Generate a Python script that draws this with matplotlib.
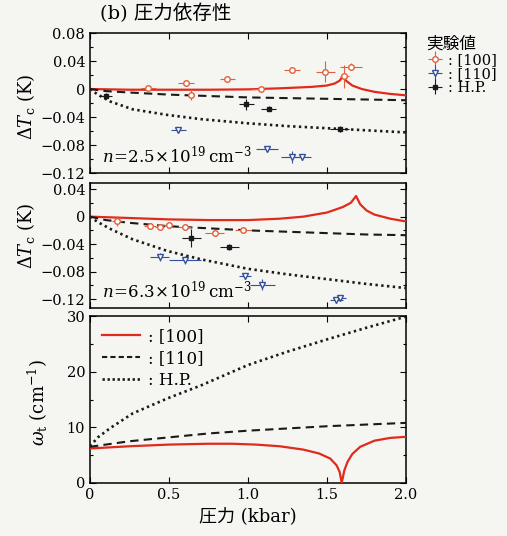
import numpy as np
import matplotlib
matplotlib.use("Agg")
import matplotlib.pyplot as plt
from matplotlib.ticker import MultipleLocator
from matplotlib.lines import Line2D

plt.rcParams['font.family'] = ['DejaVu Serif', 'Noto Sans CJK JP']
plt.rcParams['mathtext.fontset'] = 'dejavuserif'

# ---- panel 1 : n = 2.5e19 ----
p1_100_x = [0.37, 0.61, 0.64, 0.87, 1.08, 1.28, 1.49, 1.61, 1.65]
p1_100_y = [0.002, 0.009, -0.008, 0.015, 0.0, 0.027, 0.025, 0.018, 0.032]
p1_100_xe = [0.05, 0.05, 0.02, 0.05, 0.06, 0.05, 0.06, 0.03, 0.07]
p1_100_ye = [0.004, 0.004, 0.008, 0.004, 0.004, 0.004, 0.015, 0.017, 0.005]

p1_110_x = [0.56, 1.12, 1.28, 1.34]
p1_110_y = [-0.058, -0.086, -0.097, -0.097]
p1_110_xe = [0.05, 0.07, 0.07, 0.06]
p1_110_ye = [0.004, 0.004, 0.008, 0.004]

p1_hp_x = [0.10, 0.99, 1.13, 1.58]
p1_hp_y = [-0.010, -0.022, -0.028, -0.057]
p1_hp_xe = [0.04, 0.05, 0.05, 0.06]
p1_hp_ye = [0.004, 0.008, 0.004, 0.004]

c1_100_x = [0, 0.25, 0.5, 0.75, 1.0, 1.2, 1.4, 1.5, 1.55, 1.58, 1.6, 1.62, 1.66, 1.72, 1.8, 1.9, 2.0]
c1_100_y = [0, -0.001, -0.001, -0.001, -0.0005, 0.001, 0.003, 0.005, 0.008, 0.012, 0.018, 0.012, 0.005, 0.0, -0.004, -0.007, -0.009]
c1_110_x = [0, 0.1, 0.25, 0.5, 0.75, 1.0, 1.25, 1.5, 1.75, 2.0]
c1_110_y = [0, -0.003, -0.005, -0.008, -0.010, -0.012, -0.013, -0.014, -0.015, -0.016]
c1_hp_x = [0, 0.05, 0.13, 0.27, 0.49, 0.7, 1.0, 1.25, 1.5, 1.75, 2.0]
c1_hp_y = [0, -0.008, -0.018, -0.029, -0.037, -0.043, -0.049, -0.053, -0.056, -0.059, -0.062]

# ---- panel 2 : n = 6.3e19 ----
p2_100_x = [0.17, 0.38, 0.44, 0.50, 0.60, 0.79, 0.97]
p2_100_y = [-0.006, -0.014, -0.015, -0.012, -0.015, -0.024, -0.020]
p2_100_xe = [0.03, 0.04, 0.03, 0.04, 0.04, 0.06, 0.05]
p2_100_ye = [0.007, 0.004, 0.004, 0.004, 0.004, 0.004, 0.004]

p2_110_x = [0.44, 0.60, 0.98, 1.09, 1.56, 1.58]
p2_110_y = [-0.059, -0.063, -0.087, -0.099, -0.122, -0.119]
p2_110_xe = [0.06, 0.10, 0.04, 0.08, 0.04, 0.04]
p2_110_ye = [0.006, 0.006, 0.004, 0.008, 0.004, 0.004]

p2_hp_x = [0.64, 0.88]
p2_hp_y = [-0.031, -0.044]
p2_hp_xe = [0.06, 0.06]
p2_hp_ye = [0.013, 0.004]

c2_100_x = [0, 0.25, 0.5, 0.75, 1.0, 1.2, 1.35, 1.5, 1.6, 1.65, 1.684, 1.71, 1.75, 1.8, 1.9, 2.0]
c2_100_y = [0, -0.002, -0.004, -0.005, -0.005, -0.003, 0.0, 0.006, 0.014, 0.020, 0.030, 0.018, 0.009, 0.003, -0.003, -0.007]
c2_110_x = [0, 0.1, 0.25, 0.5, 0.75, 1.0, 1.25, 1.5, 1.75, 2.0]
c2_110_y = [0, -0.005, -0.009, -0.014, -0.017, -0.020, -0.022, -0.024, -0.026, -0.027]
c2_hp_x = [0, 0.05, 0.13, 0.27, 0.49, 0.7, 1.0, 1.25, 1.5, 1.75, 2.0]
c2_hp_y = [0, -0.008, -0.018, -0.033, -0.050, -0.062, -0.076, -0.084, -0.091, -0.098, -0.104]

# ---- panel 3 : omega_t ----
c3_100_x = [0, 0.25, 0.5, 0.75, 0.9, 1.05, 1.2, 1.35, 1.45, 1.52, 1.56, 1.58, 1.593,
            1.61, 1.63, 1.66, 1.71, 1.8, 1.9, 2.0]
c3_100_y = [6.2, 6.6, 6.9, 7.05, 7.05, 6.9, 6.6, 6.0, 5.3, 4.4, 3.2, 2.0, 0.0,
            2.3, 3.8, 5.2, 6.5, 7.6, 8.1, 8.3]
c3_110_x = [0, 0.25, 0.5, 0.75, 1.0, 1.25, 1.5, 1.75, 2.0]
c3_110_y = [6.5, 7.5, 8.2, 8.9, 9.4, 9.8, 10.2, 10.5, 10.8]
c3_hp_x = [0, 0.05, 0.13, 0.27, 0.49, 0.7, 1.0, 1.25, 1.5, 1.75, 2.0]
c3_hp_y = [6.6, 8.2, 9.9, 12.5, 15.2, 17.5, 21.2, 23.6, 25.8, 27.9, 29.9]

series_labels = [': [100]', ': [110]', ': H.P.']
x_ticks = [0, 0.5, 1.0, 1.5, 2.0]
x_ticklabels = ['0', '0.5', '1.0', '1.5', '2.0']
dt_ticks = [0.08, 0.04, 0, -0.04, -0.08, -0.12]
dt_ticklabels = ['0.08', '0.04', '0', '\u22120.04', '\u22120.08', '\u22120.12']
w_ticks = [0, 10, 20, 30]

RED = '#e02a1c'
RED_PT = '#e0603a'
BLUE = '#34509a'
BLACK = '#1a1a1a'
BG = '#f5f5f2'

fig = plt.figure(figsize=(5.07, 5.36), dpi=100, facecolor=BG)
ax1 = fig.add_axes([0.1775, 0.6772, 0.6233, 0.2612])
ax2 = fig.add_axes([0.1775, 0.4254, 0.6233, 0.2332])
ax3 = fig.add_axes([0.1775, 0.0989, 0.6233, 0.3115])


def curves(ax, x1, y1, x2, y2, x3, y3):
    ax.plot(x1, y1, color=RED, lw=1.6, zorder=3)
    ax.plot(x2, y2, color=BLACK, lw=1.5, ls=(0, (4, 2.5)), zorder=3)
    ax.plot(x3, y3, color=BLACK, lw=1.9, ls=(0, (0.9, 1.3)), zorder=3)


def points(ax, x, y, xe, ye, color, marker, fill, ms=4):
    return ax.errorbar(x, y, xerr=xe, yerr=ye, fmt=marker, ms=ms, mfc=fill,
                       mec=color, mew=1.0, ecolor=color, elinewidth=0.8,
                       capsize=0, zorder=4)


def style(ax):
    ax.set_facecolor(BG)
    ax.set_xlim(0, 2.0)
    ax.set_xticks(x_ticks)
    ax.tick_params(which='both', direction='in', top=True, right=True,
                   labelsize=10.5, width=0.8)
    ax.tick_params(which='major', length=4)
    ax.tick_params(which='minor', length=2.5)
    for s in ax.spines.values():
        s.set_linewidth(1.1)


for ax in (ax1, ax2):
    style(ax)
    ax.set_yticks(dt_ticks)
    ax.set_yticklabels(dt_ticklabels)
    ax.yaxis.set_minor_locator(MultipleLocator(0.02))
    ax.set_xticklabels([])
    ax.set_ylabel(r'$\mathit{\Delta T}_\mathrm{c}$ (K)', fontsize=13)

ax1.set_ylim(-0.12, 0.08)
ax2.set_ylim(-0.133, 0.049)
ax1.yaxis.set_label_coords(-0.168, 0.47)
ax2.yaxis.set_label_coords(-0.168, 0.58)

curves(ax1, c1_100_x, c1_100_y, c1_110_x, c1_110_y, c1_hp_x, c1_hp_y)
h100 = points(ax1, p1_100_x, p1_100_y, p1_100_xe, p1_100_ye, RED_PT, 'o', 'white')
h110 = points(ax1, p1_110_x, p1_110_y, p1_110_xe, p1_110_ye, BLUE, 'v', 'white')
hhp = points(ax1, p1_hp_x, p1_hp_y, p1_hp_xe, p1_hp_ye, BLACK, 's', BLACK, ms=2.6)

curves(ax2, c2_100_x, c2_100_y, c2_110_x, c2_110_y, c2_hp_x, c2_hp_y)
points(ax2, p2_100_x, p2_100_y, p2_100_xe, p2_100_ye, RED_PT, 'o', 'white')
points(ax2, p2_110_x, p2_110_y, p2_110_xe, p2_110_ye, BLUE, 'v', 'white')
points(ax2, p2_hp_x, p2_hp_y, p2_hp_xe, p2_hp_ye, BLACK, 's', BLACK, ms=2.6)

ax1.text(0.038, 0.115, r'$n\!=\!2.5\!\times\!10^{19}\,\mathrm{cm}^{-3}$',
         transform=ax1.transAxes, fontsize=12, va='center')
ax2.text(0.038, 0.13, r'$n\!=\!6.3\!\times\!10^{19}\,\mathrm{cm}^{-3}$',
         transform=ax2.transAxes, fontsize=12, va='center')

# omega panel
style(ax3)
ax3.set_ylim(0, 30)
ax3.set_yticks(w_ticks)
ax3.yaxis.set_minor_locator(MultipleLocator(5))
ax3.set_xticklabels(x_ticklabels)
curves(ax3, c3_100_x, c3_100_y, c3_110_x, c3_110_y, c3_hp_x, c3_hp_y)
ax3.set_ylabel(r'$\omega_\mathrm{t}$ (cm$^{-1}$)', fontsize=13)
ax3.yaxis.set_label_coords(-0.127, 0.48)
ax3.set_xlabel('圧力 (kbar)', fontsize=13, labelpad=4)

line_handles = [Line2D([], [], color=RED, lw=1.6),
                Line2D([], [], color=BLACK, lw=1.5, ls=(0, (2.5, 1.5))),
                Line2D([], [], color=BLACK, lw=1.9, ls=(0, (0.9, 1.0)))]
ax3.legend(line_handles, series_labels, loc='upper left', frameon=False,
           fontsize=12, handlelength=2.3, handletextpad=0.5, labelspacing=0.3,
           borderaxespad=0.3, bbox_to_anchor=(0.0, 1.0))

# experimental legend (outside right)
leg = fig.legend([h100, h110, hhp], series_labels, loc='upper left',
                 bbox_to_anchor=(0.815, 0.958), frameon=False, fontsize=10.5,
                 title='実験値', title_fontsize=12, handlelength=1.2,
                 handletextpad=0.3, labelspacing=0.0, alignment='left')

fig.text(0.197, 0.976, '(b) 圧力依存性', fontsize=14, va='center', ha='left')

fig.savefig('out.png', dpi=100, facecolor=BG)
